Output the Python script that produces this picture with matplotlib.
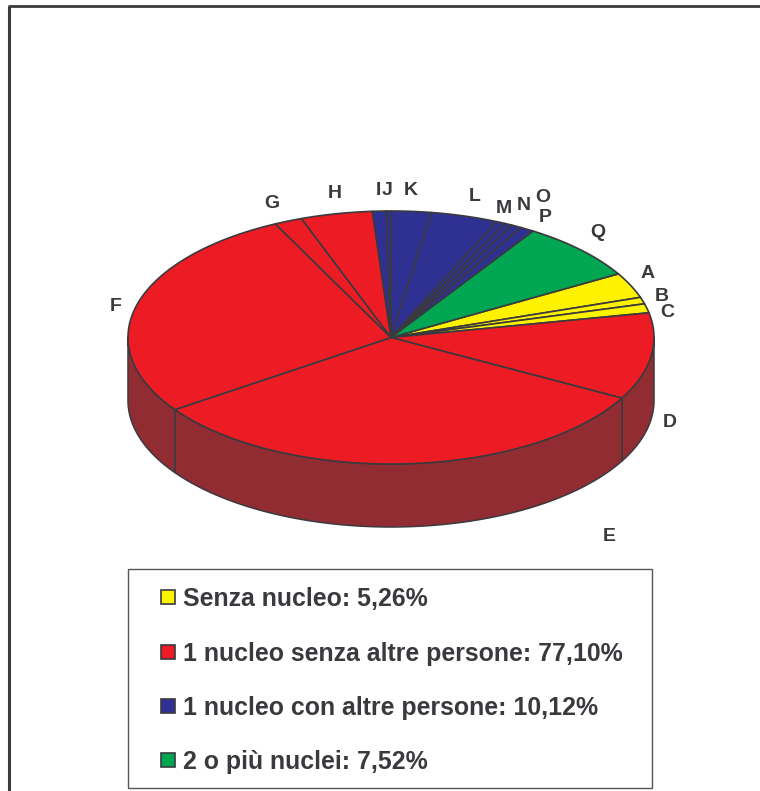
import numpy as np
import matplotlib
matplotlib.use("Agg")
import matplotlib.pyplot as plt
from matplotlib.patches import Polygon, Rectangle

# ---- data ----
labels = list("ABCDEFGHIJKLMNOPQ")
values = [3.25, 0.85, 1.16, 11.08, 32.40, 27.40, 1.72, 4.40,
          0.83, 0.30, 2.45, 4.12, 0.55, 0.50, 0.60, 0.87, 7.52]
groups = [0, 0, 0, 1, 1, 1, 1, 1, 2, 2, 2, 2, 2, 2, 2, 2, 3]
legend_labels = ["Senza nucleo: 5,26%", "1 nucleo senza altre persone: 77,10%",
                 "1 nucleo con altre persone: 10,12%", "2 o più nuclei: 7,52%"]

# ---- layout and style ----
W, H = 760, 791
CX, CY, RX, RY, DEPTH = 391, 337.5, 263, 126.5, 63
START = 30.2
top_colors = ["#FFF200", "#ED1C24", "#2E3192", "#00A651"]
side_colors = ["#8F8A20", "#922C33", "#1E2060", "#0B6B3A"]
INK = "#3A3A3E"
label_xy = [(648, 273.5), (662, 296.5), (667, 312.5), (670, 422.5), (609, 536.5), (116, 306.5),
            (272, 203.5), (335, 193.5), (378, 190.5), (387, 190.5), (411, 190.5), (475, 196.5),
            (504, 208.5), (524, 205.5), (543, 197.5), (545, 217.5), (598, 232.5)]
legend_rows = [597, 652, 706, 760]

plt.rcParams["font.family"] = ["Liberation Sans", "DejaVu Sans"]
fig = plt.figure(figsize=(W / 100, H / 100), dpi=100, facecolor="white")
ax = fig.add_axes([0, 0, 1, 1])
ax.set_xlim(0, W)
ax.set_ylim(H, 0)
ax.axis("off")

def pt(a):
    r = np.radians(a)
    return CX + RX * np.cos(r), CY - RY * np.sin(r)

# outer frame: top and left only, both run off the picture
ax.plot([9, 9], [H + 5, 6], color=INK, lw=2.2, solid_capstyle="butt", zorder=1)
ax.plot([8, W + 5], [6, 6], color=INK, lw=2.0, solid_capstyle="butt", zorder=1)

# slice angles, clockwise from START
deg = 360 * np.array(values) / np.sum(values)
ends = START - np.cumsum(deg)
starts = ends + deg

# side wall: only the front half of each slice is visible
for a0, a1, g in zip(starts, ends, groups):
    lo, hi = max(a1, -180), min(a0, 0)
    if hi <= lo:
        continue
    t = np.linspace(hi, lo, 80)
    x, y = pt(t)
    poly = np.vstack([np.c_[x, y], np.c_[x[::-1], y[::-1] + DEPTH]])
    ax.add_patch(Polygon(poly, closed=True, fc=side_colors[g], ec=INK, lw=1.1,
                         joinstyle="round", zorder=2))

# top face
for a0, a1, g in zip(starts, ends, groups):
    t = np.linspace(a0, a1, 80)
    x, y = pt(t)
    poly = np.vstack([[CX, CY], np.c_[x, y]])
    ax.add_patch(Polygon(poly, closed=True, fc=top_colors[g], ec=INK, lw=1.2,
                         joinstyle="round", zorder=3))

# slice letters
for s, (x, y) in zip(labels, label_xy):
    ax.text(x, y, s, fontsize=14, fontweight="bold", color=INK, ha="center",
            va="center", zorder=5)

# legend
ax.add_patch(Rectangle((128, 569), 524, 219, fc="white", ec="#555558", lw=1.0, zorder=4))
for y, s, c in zip(legend_rows, legend_labels, top_colors):
    ax.add_patch(Rectangle((160.5, y - 7), 14, 14, fc=c, ec=INK, lw=1.2, zorder=5))
    ax.text(183, y + 1.5, s, fontsize=17.9, fontweight="bold", color=INK, ha="left",
            va="center", zorder=5)

fig.savefig("out.png", dpi=100, facecolor="white")
